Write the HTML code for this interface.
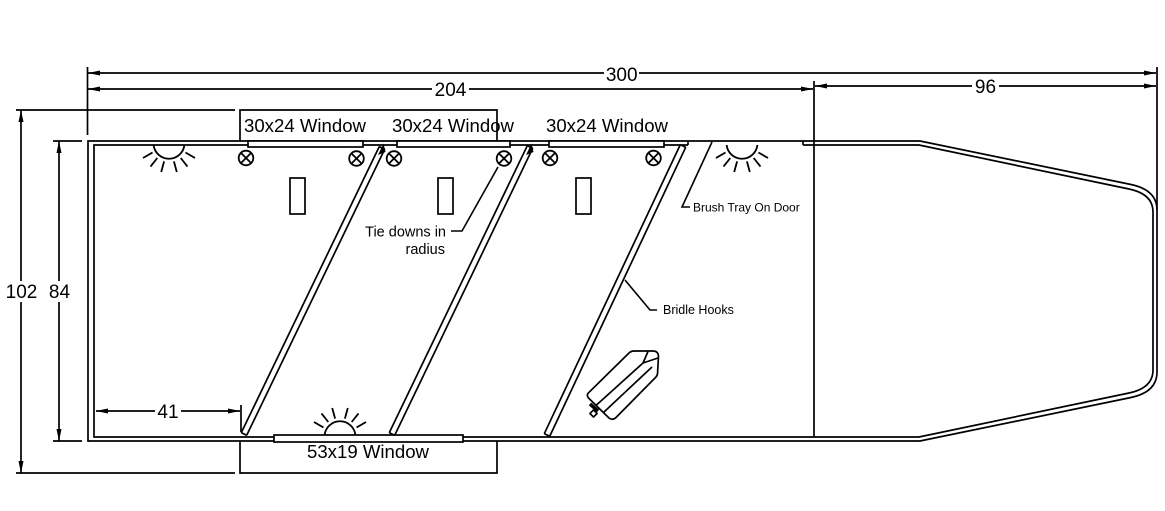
<!DOCTYPE html>
<html><head><meta charset="utf-8"><style>
html,body{margin:0;padding:0;background:#fff;}
svg{display:block;}
text{font-family:"Liberation Sans",Arial,sans-serif;fill:#000;}
</style></head><body>
<svg width="1165" height="511" viewBox="0 0 1165 511" xmlns="http://www.w3.org/2000/svg">
<defs>
<g id="sun" fill="none" stroke="#000" stroke-width="1.8">
<path d="M-15.4 2 A15.5 15.5 0 0 0 15.4 2"/>
<line x1="16.5" y1="9.5" x2="26" y2="15"/>
<line x1="11.7" y1="15" x2="18.5" y2="23.6"/>
<line x1="4.9" y1="18.4" x2="7.8" y2="29"/>
<line x1="-4.9" y1="18.4" x2="-7.8" y2="29"/>
<line x1="-11.7" y1="15" x2="-18.5" y2="23.6"/>
<line x1="-16.5" y1="9.5" x2="-26" y2="15"/>
</g>
<g id="td" fill="none" stroke="#000" stroke-width="1.8">
<circle cx="0" cy="0" r="7.3" fill="#fff"/>
<line x1="-5" y1="-5" x2="5" y2="5"/>
<line x1="-5" y1="5" x2="5" y2="-5"/>
</g>
</defs>
<rect width="1165" height="511" fill="#fff"/>

<g stroke="#000" stroke-width="1.7" fill="none">
<!-- dimension lines -->
<line x1="88" y1="73" x2="1156" y2="73"/>
<line x1="88" y1="89" x2="813" y2="89"/>
<line x1="815" y1="86" x2="1156" y2="86"/>
<line x1="87.5" y1="67" x2="87.5" y2="135"/>
<line x1="1157" y1="67" x2="1157" y2="210"/>
<line x1="814" y1="81" x2="814" y2="437"/>
<line x1="16" y1="110" x2="235" y2="110"/>
<line x1="16" y1="473" x2="235" y2="473"/>
<line x1="21" y1="110" x2="21" y2="473"/>
<line x1="53" y1="141" x2="82" y2="141"/>
<line x1="53" y1="441" x2="82" y2="441"/>
<line x1="59" y1="141" x2="59" y2="441"/>
<line x1="96" y1="411" x2="240" y2="411"/>
<line x1="241" y1="405" x2="241" y2="432"/>
<!-- label boxes -->
<path d="M240 141 V110 H497 V141"/>
<path d="M240 441 V473 H497 V441"/>
</g>

<!-- arrowheads -->
<g fill="#000">
<polygon points="88,73 100,70.5 100,75.5"/>
<polygon points="1156,73 1144,70.5 1144,75.5"/>
<polygon points="88,89 100,86.5 100,91.5"/>
<polygon points="813,89 801,86.5 801,91.5"/>
<polygon points="815,86 827,83.5 827,88.5"/>
<polygon points="1156,86 1144,83.5 1144,88.5"/>
<polygon points="21,110 18.5,122 23.5,122"/>
<polygon points="21,473 18.5,461 23.5,461"/>
<polygon points="59,141 56.5,153 61.5,153"/>
<polygon points="59,441 56.5,429 61.5,429"/>
<polygon points="96,411 108,408.5 108,413.5"/>
<polygon points="240,411 228,408.5 228,413.5"/>
</g>

<!-- walls -->
<g stroke="#000" stroke-width="1.7" fill="none">
<path d="M88 141 H920 L1131 184.5 Q1157 190 1157 210 V372 Q1157 392 1131 397.5 L920 441 H88 Z"/>
<path d="M688 145 H94 V437 H919 L1129 393 Q1153 388 1153 370 V212 Q1153 194 1129 189 L919 145 H803"/>
<line x1="688" y1="141" x2="688" y2="145"/>
<line x1="803" y1="141" x2="803" y2="145"/>
</g>

<!-- windows -->
<g stroke="#000" stroke-width="1.7" fill="#fff">
<rect x="248" y="141" width="115" height="6"/>
<rect x="397" y="141" width="113" height="6"/>
<rect x="549" y="141" width="115" height="6"/>
<rect x="274" y="435" width="189" height="7"/>
</g>

<!-- partitions -->
<g stroke="#000" stroke-width="1.7" fill="#fff">
<g transform="translate(244,434) rotate(-64.25)"><rect x="0" y="-3" width="317.6" height="6" rx="1"/></g>
<g transform="translate(392,434) rotate(-64.32)"><rect x="0" y="-3" width="318.5" height="6" rx="1"/></g>
<g transform="translate(547,435) rotate(-64.8)"><rect x="0" y="-3" width="319.4" height="6" rx="1"/></g>
</g>
<g fill="#000">
<polygon points="378,155 383.5,143.5 385.5,152"/>
<polygon points="526,155 531.5,143.5 533.5,152"/>
</g>

<!-- tie downs -->
<use href="#td" transform="translate(246,158)"/>
<use href="#td" transform="translate(356.5,158.5)"/>
<use href="#td" transform="translate(394,158.5)"/>
<use href="#td" transform="translate(504,158.5)"/>
<use href="#td" transform="translate(550,158)"/>
<use href="#td" transform="translate(653.5,158)"/>

<!-- feeders -->
<g stroke="#000" stroke-width="1.7" fill="none">
<rect x="290" y="178" width="15" height="36"/>
<rect x="438" y="178" width="15" height="36"/>
<rect x="576" y="178" width="15" height="36"/>
</g>

<!-- lights -->
<use href="#sun" transform="translate(169,143)"/>
<use href="#sun" transform="translate(742,143)"/>
<use href="#sun" transform="translate(340,437) scale(1,-1)"/>

<!-- leaders -->
<g stroke="#000" stroke-width="1.6" fill="none">
<polyline points="451,231 462,231 498,167"/>
<polyline points="712,142 682,207 690,207"/>
<polyline points="625,280 650,310 657,310"/>
</g>

<!-- saddle object -->
<g stroke="#000" stroke-width="1.7" fill="none" stroke-linejoin="round">
<path d="M588 393.3 L629 353 Q631 351 634 351 L653 351 Q658 351 658.5 356 L657.5 374 Q657 376 655.5 377.5 L615.5 418 Q612 420.5 609 418 L588.5 398 Q586.5 395.5 588 393.3 Z"/>
<path d="M648 351.5 L643 363 L658 358"/>
<line x1="643" y1="363" x2="596.5" y2="405"/>
<line x1="652" y1="367" x2="604" y2="412"/>
<line x1="590" y1="404" x2="598" y2="411" stroke-width="3.5"/>
<rect x="591" y="411" width="5" height="5" transform="rotate(45 593.5 413.5)"/>
</g>

<!-- dimension text with backgrounds -->
<g fill="#fff">
<rect x="604" y="64" width="35" height="20"/>
<rect x="432" y="80" width="37" height="19"/>
<rect x="972" y="77" width="27" height="18"/>
<rect x="4" y="281" width="34" height="21"/>
<rect x="47" y="281" width="25" height="21"/>
<rect x="155" y="402" width="26" height="19"/>
</g>
<g font-size="19" text-anchor="middle">
<text x="621.7" y="81">300</text>
<text x="450.5" y="96">204</text>
<text x="985.5" y="93">96</text>
<text x="21.5" y="298">102</text>
<text x="59.5" y="298">84</text>
<text x="168" y="418">41</text>
</g>

<g font-size="18.6">
<text x="244" y="132">30x24 Window</text>
<text x="392" y="132">30x24 Window</text>
<text x="546" y="132">30x24 Window</text>
<text x="307" y="458">53x19 Window</text>
</g>

<text x="446" y="236.5" font-size="14.5" text-anchor="end">Tie downs in</text>
<text x="445" y="254" font-size="14.5" text-anchor="end">radius</text>
<text x="693" y="211.5" font-size="12">Brush Tray On Door</text>
<text x="663" y="314" font-size="12.5">Bridle Hooks</text>
</svg>
</body></html>
